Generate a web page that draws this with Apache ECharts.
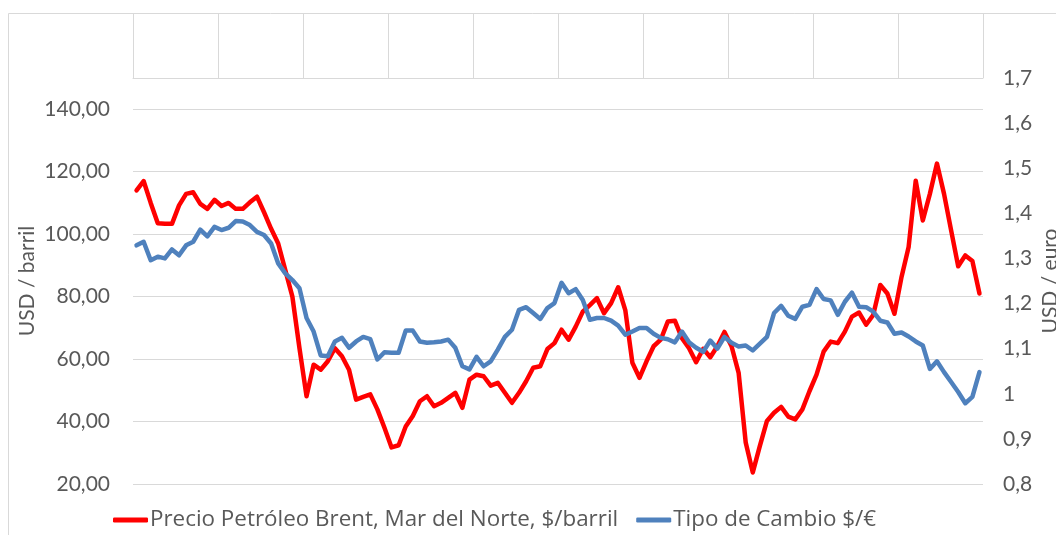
<!DOCTYPE html>
<html>
<head>
<meta charset="utf-8">
<title>Brent y tipo de cambio</title>
<script src="https://cdn.jsdelivr.net/npm/echarts@6/dist/echarts.min.js"></script>
<style>
  html, body { margin: 0; padding: 0; background: #fff; }
  #chart { width: 1056px; height: 535px; }
</style>
</head>
<body>
<div id="chart"></div>
<script>
// Years shown as columns in the header band
const years = ['2013', '2014', '2015', '2016', '2017', '2018', '2019', '2020', '2021', '2022'];
const monthNames = ['ene', 'feb', 'mar', 'abr', 'may', 'jun', 'jul', 'ago', 'sep', 'oct', 'nov', 'dic'];

// Brent monthly average price, USD per barrel
const brent2013 = [114, 117, 110, 103.5, 103.3, 103.3, 109.2, 112.9, 113.4, 109.7, 108.1, 111];
const brent2014 = [109, 110, 108.1, 108.1, 110.2, 112, 107, 101.7, 97, 88.5, 80, 63.5];
const brent2015 = [48.1, 58.2, 56.6, 59.3, 63.5, 60.9, 56.6, 47, 47.9, 48.7, 43.9, 38];
const brent2016 = [31.7, 32.4, 38.4, 41.8, 46.5, 48.1, 44.9, 46, 47.6, 49.2, 44.4, 53.4];
const brent2017 = [55, 54.5, 51.5, 52.4, 49.2, 46, 49.2, 52.9, 57.2, 57.7, 63.2, 65.1];
const brent2018 = [69.4, 66.2, 70.4, 75.2, 77.3, 79.5, 74.7, 77.9, 83, 75.7, 58.8, 54];
const brent2019 = [59.3, 64.1, 66.2, 72, 72.3, 66.7, 63.5, 59, 63.3, 60.6, 64.1, 68.7];
const brent2020 = [64.1, 55.6, 33.3, 23.7, 32.2, 40.2, 42.8, 44.7, 41.6, 40.7, 43.9, 49.7];
const brent2021 = [55, 62.4, 65.6, 65.1, 68.8, 73.6, 74.9, 71, 74.1, 83.7, 81, 74.5];
const brent2022 = [86.3, 95.9, 117.1, 104.4, 112.9, 122.6, 112.9, 101.2, 89.7, 93.2, 91.4, 81];

// Dollar / euro exchange rate, monthly average
const fx2013 = [1.329, 1.337, 1.296, 1.304, 1.300, 1.320, 1.307, 1.329, 1.337, 1.364, 1.349, 1.370];
const fx2014 = [1.363, 1.368, 1.383, 1.382, 1.374, 1.359, 1.352, 1.333, 1.289, 1.267, 1.252, 1.234];
const fx2015 = [1.168, 1.138, 1.085, 1.083, 1.116, 1.124, 1.102, 1.116, 1.126, 1.121, 1.076, 1.092];
const fx2016 = [1.091, 1.091, 1.140, 1.140, 1.116, 1.113, 1.114, 1.116, 1.120, 1.102, 1.061, 1.054];
const fx2017 = [1.082, 1.061, 1.072, 1.098, 1.126, 1.142, 1.186, 1.192, 1.179, 1.166, 1.190, 1.201];
const fx2018 = [1.246, 1.223, 1.232, 1.208, 1.164, 1.168, 1.168, 1.162, 1.151, 1.131, 1.138, 1.146];
const fx2019 = [1.146, 1.133, 1.124, 1.121, 1.114, 1.138, 1.114, 1.102, 1.093, 1.118, 1.100, 1.126];
const fx2020 = [1.113, 1.105, 1.107, 1.096, 1.111, 1.126, 1.179, 1.195, 1.173, 1.166, 1.193, 1.197];
const fx2021 = [1.232, 1.210, 1.207, 1.175, 1.204, 1.224, 1.193, 1.192, 1.182, 1.162, 1.158, 1.133];
const fx2022 = [1.136, 1.127, 1.116, 1.107, 1.055, 1.072, 1.048, 1.026, 1.004, 0.979, 0.993, 1.048];

// Axis tick settings
const leftMin = 20, leftMax = 150, leftStep = 20;
const rightMin = 0.8, rightMax = 1.7, rightStep = 0.1;

const seriesNames = ['Precio Petróleo Brent, Mar del Norte, $/barril', 'Tipo de Cambio $/€'];

const months = [];
years.forEach(y => monthNames.forEach(m => months.push(m + '-' + y.slice(2))));

const brent = [].concat(brent2013, brent2014, brent2015, brent2016, brent2017,
  brent2018, brent2019, brent2020, brent2021, brent2022);
const fx = [].concat(fx2013, fx2014, fx2015, fx2016, fx2017,
  fx2018, fx2019, fx2020, fx2021, fx2022);

const FONT = 'Lato';
const LEGEND_FONT = 'Open Sans';
const TEXT = '#595959';
const GRID_LINE = '#D9D9D9';
const RED = '#FF0000';
const BLUE = '#4F81BD';

const chart = echarts.init(document.getElementById('chart'), null, { renderer: 'canvas' });

chart.setOption({
  animation: false,
  backgroundColor: '#fff',
  textStyle: { fontFamily: FONT, color: TEXT },
  graphic: [{
    type: 'rect',
    silent: true,
    shape: { x: 8.5, y: 13.5, width: 1200, height: 1000 },
    style: { fill: 'none', stroke: GRID_LINE, lineWidth: 1 }
  }],
  grid: [
    { left: 133, right: 73, top: 78, bottom: 51, outerBoundsMode: 'none' },
    { left: 133, right: 73, top: 14, height: 64, outerBoundsMode: 'none' }
  ],
  legend: {
    left: 108,
    top: 504,
    icon: 'roundRect',
    itemWidth: 35,
    itemHeight: 5,
    itemGap: 18,
    textStyle: { fontFamily: LEGEND_FONT, fontSize: 22.4, color: TEXT, padding: [0, 0, 0, -3] },
    data: seriesNames
  },
  xAxis: [
    {
      type: 'category',
      gridIndex: 0,
      data: months,
      boundaryGap: true,
      axisLine: { show: false },
      axisTick: { show: false },
      axisLabel: { show: false },
      splitLine: { show: false }
    },
    {
      type: 'category',
      gridIndex: 1,
      data: years,
      boundaryGap: true,
      axisLine: { show: true, lineStyle: { color: GRID_LINE, width: 1 } },
      axisTick: { show: false },
      axisLabel: { show: false },
      splitLine: { show: true, lineStyle: { color: GRID_LINE, width: 1 } }
    }
  ],
  yAxis: [
    {
      type: 'value',
      gridIndex: 0,
      min: leftMin,
      max: leftMax,
      interval: leftStep,
      name: 'USD / barril',
      nameLocation: 'middle',
      nameRotate: 90,
      nameGap: 95,
      nameMoveOverlap: false,
      nameTextStyle: { fontFamily: FONT, fontSize: 21, color: TEXT },
      axisLine: { show: false },
      axisTick: { show: false },
      axisLabel: {
        fontFamily: FONT, fontSize: 21, color: TEXT, margin: 23,
        showMaxLabel: false,
        formatter: v => v.toFixed(2).replace('.', ',')
      },
      splitLine: { show: true, lineStyle: { color: GRID_LINE, width: 1 } }
    },
    {
      type: 'value',
      gridIndex: 0,
      position: 'right',
      min: rightMin,
      max: rightMax,
      interval: rightStep,
      name: 'USD / euro',
      nameLocation: 'middle',
      nameRotate: 90,
      nameGap: 57,
      nameMoveOverlap: false,
      nameTextStyle: { fontFamily: FONT, fontSize: 21, color: TEXT },
      axisLine: { show: false },
      axisTick: { show: false },
      axisLabel: {
        fontFamily: FONT, fontSize: 21, color: TEXT, margin: 20,
        formatter: v => String(+v.toFixed(1)).replace('.', ',')
      },
      splitLine: { show: false }
    },
    {
      type: 'value',
      gridIndex: 1,
      show: false
    }
  ],
  series: [
    {
      name: seriesNames[0],
      type: 'line',
      xAxisIndex: 0,
      yAxisIndex: 0,
      data: brent,
      symbol: 'none',
      z: 2,
      color: RED,
      lineStyle: { color: RED, width: 4.5, cap: 'round', join: 'round' }
    },
    {
      name: seriesNames[1],
      type: 'line',
      xAxisIndex: 0,
      yAxisIndex: 1,
      data: fx,
      symbol: 'none',
      z: 3,
      color: BLUE,
      lineStyle: { color: BLUE, width: 4.5, cap: 'round', join: 'round' }
    }
  ]
});
</script>
</body>
</html>
